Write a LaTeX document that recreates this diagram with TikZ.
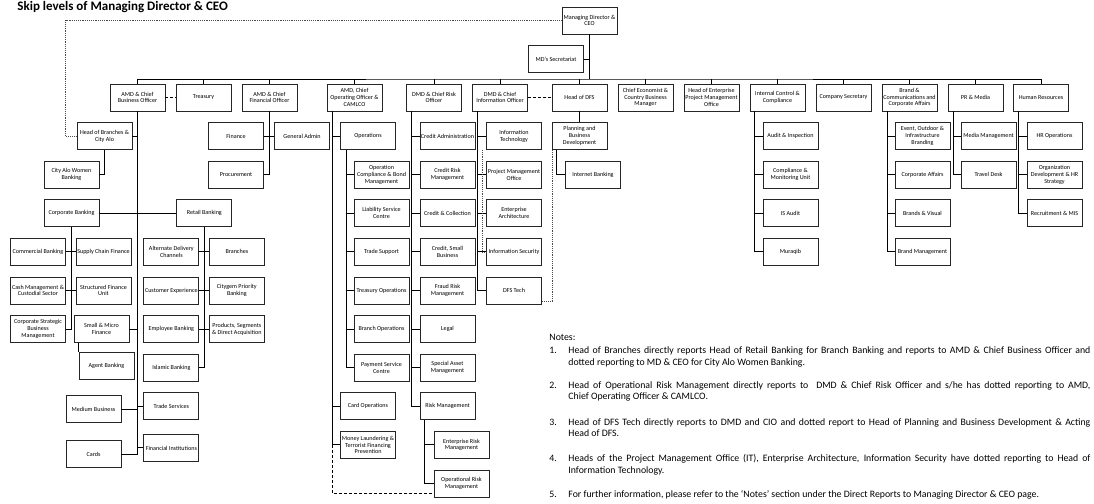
\documentclass[tikz,border=0pt]{standalone}
\usepackage{fontspec}
\setmainfont{Carlito}
\usetikzlibrary{positioning}
\tikzset{
	x=1pt, y=-1pt,
	node distance=38.6pt,
	every path/.style = {line width=0.85pt},
	box/.style = {draw=black!85, fill=white, rectangle, minimum width=55pt, minimum height=27pt, inner sep=0.5pt, align=center, font=\fontsize{6.1}{6.8}\selectfont},
	note/.style = {anchor=base west, inner sep=0pt, font=\fontsize{9.8}{11.7}\selectfont}
}

\begin{document}
\begin{tikzpicture}[dotline/.style={densely dotted, line width=0.7pt, black!70}, dashline/.style={dash pattern=on 3pt off 2pt}]
	\useasboundingbox (0,0) rectangle (1094,503);
	\node[anchor=base west, inner sep=0pt, font=\fontsize{13}{16}\bfseries\selectfont] (title) at (17,10.5) {Skip levels of Managing Director \& CEO};

	% top of the chart
	\node[box] (md) at (589.5,20.5) {Managing Director \&\\CEO};
	\node[box] (sec) at (556,59) {MD's Secretariat};
	\coordinate (bus) at (589.5,79);

	% direct reports
	\node[box] (cbo) at (137.5,97.5) {AMD \& Chief\\Business Officer};
	\node[box] (treasury) at (203.5,97.5) {Treasury};
	\node[box] (cfo) at (269.5,97.5) {AMD \& Chief\\Financial Officer};
	\node[box] (coo) at (354.5,97.5) {AMD, Chief\\Operating Officer \&\\CAMLCO};
	\node[box] (cro) at (434,97.5) {DMD \& Chief Risk\\Officer};
	\node[box] (cio) at (500,97.5) {DMD \& Chief\\Information Officer};
	\node[box] (dfs) at (579.5,97.5) {Head of DFS};
	\node[box] (econ) at (645.5,97.5) {Chief Economist \&\\Country Business\\Manager};
	\node[box] (epmo) at (711.5,97.5) {Head of Enterprise\\Project Management\\Office};
	\node[box] (icc) at (777.5,97.5) {Internal Control \&\\Compliance};
	\node[box] (cosec) at (843.5,97.5) {Company Secretary};
	\node[box] (brand) at (909.5,97.5) {Brand \&\\Communications and\\Corporate Affairs};
	\node[box] (pr) at (975.5,97.5) {PR \& Media};
	\node[box] (hr) at (1041,97.5) {Human Resources};

	% business
	\node[box] (hob) [below of=cbo, xshift=-33pt] {Head of Branches \&\\City Alo};
	\node[box] (cityalo) [below of=hob, xshift=-33pt] {City Alo Women\\Banking};
	\node[box] (corp) [below of=cityalo] {Corporate Banking};
	\node[box] (retail) [right=77pt of corp] {Retail Banking};
	\node[box] (commercial) [below of=corp, xshift=-33.5pt] {Commercial Banking};
	\node[box] (scf) [below of=corp, xshift=32pt] {Supply Chain Finance};
	\node[box] (cashmgmt) [below of=commercial] {Cash Management \&\\Custodial Sector};
	\node[box] (csbm) [below of=cashmgmt] {Corporate Strategic\\Business\\Management};
	\node[box] (sfu) [below of=scf] {Structured Finance\\Unit};
	\node[box] (smf) [below of=sfu, xshift=-2pt] {Small \& Micro\\Finance};
	\node[box] (agent) [below of=smf, xshift=5pt, yshift=2pt] {Agent Banking};
	\node[box] (adc) [below of=retail, xshift=-33pt] {Alternate Delivery\\Channels};
	\node[box] (branches) [below of=retail, xshift=32.5pt] {Branches};
	\node[box] (custexp) [below of=adc] {Customer Experience};
	\node[box] (employee) [below of=custexp] {Employee Banking};
	\node[box] (islamic) [below of=employee] {Islamic Banking};
	\node[box] (citygem) [below of=branches] {Citygem Priority\\Banking};
	\node[box] (products) [below of=citygem] {Products, Segments\\\& Direct Acquisition};
	\node[box] (trade) [below of=islamic] {Trade Services};
	\node[box] (finst) [below of=trade, yshift=-3pt] {Financial Institutions};
	\node[box] (medium) [left=22pt of trade, yshift=-3pt] {Medium Business};
	\node[box] (cards) [left=22pt of finst, yshift=-6.5pt] {Cards};

	% finance
	\node[box] (finance) [below of=cfo, xshift=-33.5pt] {Finance};
	\node[box] (admin) [below of=cfo, xshift=32.5pt] {General Admin};
	\node[box] (procure) [below of=finance] {Procurement};

	% operations
	\node[box] (ops) [below of=coo, xshift=13.5pt] {Operations};
	\node[box] (opcomp) [below of=ops, xshift=13.5pt] {Operation\\Compliance \& Bond\\Management};
	\node[box] (liability) [below of=opcomp] {Liability Service\\Centre};
	\node[box] (tradesup) [below of=liability] {Trade Support};
	\node[box] (treasops) [below of=tradesup] {Treasury Operations};
	\node[box] (branchops) [below of=treasops] {Branch Operations};
	\node[box] (payment) [below of=branchops] {Payment Service\\Centre};
	\node[box] (cardops) [below of=payment, xshift=-13.5pt] {Card Operations};
	\node[box] (aml) [below of=cardops] {Money Laundering \&\\Terrorist Financing\\Prevention};

	% risk
	\node[box] (credadmin) [below of=cro, xshift=13.5pt] {Credit Administration};
	\node[box] (credrisk) [below of=credadmin] {Credit Risk\\Management};
	\node[box] (credcoll) [below of=credrisk] {Credit \& Collection};
	\node[box] (credsmall) [below of=credcoll] {Credit, Small\\Business};
	\node[box] (fraud) [below of=credsmall] {Fraud Risk\\Management};
	\node[box] (legal) [below of=fraud] {Legal};
	\node[box] (sam) [below of=legal] {Special Asset\\Management};
	\node[box] (riskmgmt) [below of=sam] {Risk Management};
	\node[box] (erm) [below of=riskmgmt, xshift=14pt] {Enterprise Risk\\Management};
	\node[box] (orm) [below of=erm] {Operational Risk\\Management};

	% information
	\node[box] (it) [below of=cio, xshift=14pt] {Information\\Technology};
	\node[box] (pmo) [below of=it] {Project Management\\Office};
	\node[box] (ea) [below of=pmo] {Enterprise\\Architecture};
	\node[box] (infosec) [below of=ea] {Information Security};
	\node[box] (dfstech) [below of=infosec] {DFS Tech};
	\node[box] (planning) [below of=dfs] {Planning and\\Business\\Development};
	\node[box] (internet) [below of=planning, xshift=13.5pt] {Internet Banking};

	% control, brand, media, people
	\node[box] (audit) [below of=icc, xshift=13pt] {Audit \& Inspection};
	\node[box] (cmu) [below of=audit] {Compliance \&\\Monitoring Unit};
	\node[box] (isaudit) [below of=cmu] {IS Audit};
	\node[box] (muraqib) [below of=isaudit] {Muraqib};
	\node[box] (event) [below of=brand, xshift=13pt] {Event, Outdoor \&\\Infrastructure\\Branding};
	\node[box] (corpaff) [below of=event] {Corporate Affairs};
	\node[box] (brandvis) [below of=corpaff] {Brands \& Visual};
	\node[box] (brandmgmt) [below of=brandvis] {Brand Management};
	\node[box] (media) [below of=pr, xshift=13pt] {Media Management};
	\node[box] (travel) [below of=media] {Travel Desk};
	\node[box] (hrops) [below of=hr, xshift=13.5pt] {HR Operations};
	\node[box] (orgdev) [below of=hrops] {Organization\\Development \& HR\\Strategy};
	\node[box] (recruit) [below of=orgdev] {Recruitment \& MIS};

	% lines from the top
	\draw (md.south) -- (bus);
	\draw (sec.east) -- (sec.east -| md.south);
	\draw (cbo.north) |- (bus) -| (hr.north);
	\draw (treasury.north) -- (treasury.north |- bus) (cfo.north) -- (cfo.north |- bus)
		(coo.north) -- (coo.north |- bus) (cro.north) -- (cro.north |- bus)
		(cio.north) -- (cio.north |- bus) (dfs.north) -- (dfs.north |- bus)
		(econ.north) -- (econ.north |- bus) (epmo.north) -- (epmo.north |- bus)
		(icc.north) -- (icc.north |- bus) (cosec.north) -- (cosec.north |- bus)
		(brand.north) -- (brand.north |- bus) (pr.north) -- (pr.north |- bus);
	\draw[dotline] (md.west) -| ([xshift=-11pt]hob.west) -- (hob.west);
	\draw[dashline] (cbo.east) -- (treasury.west);
	\draw[dashline] (cio.east) -- (dfs.west);

	% business lines
	\draw (cbo.south) |- (cards.east);
	\draw (hob.east) -- (hob.east -| cbo.south);
	\draw (smf.east) -- (smf.east -| cbo.south);
	\draw (medium.east) -- (medium.east -| cbo.south);
	\draw (trade.west) -- (trade.west -| cbo.south);
	\draw (finst.west) -- (finst.west -| cbo.south);
	\draw (hob.south) |- (cityalo.east);
	\draw (corp.east) -- (retail.west);
	\draw (corp.south) |- (csbm.east);
	\draw (commercial.east) -- (scf.west);
	\draw (cashmgmt.east) -- (sfu.west);
	\draw (agent.north west) -- (agent.north west |- smf.south);
	\draw (retail.south) |- (islamic.east);
	\draw (adc.east) -- (branches.west);
	\draw (custexp.east) -- (citygem.west);
	\draw (employee.east) -- (products.west);
	\draw (cfo.south) |- (procure.east);
	\draw (finance.east) -- (admin.west);

	% operations lines
	\coordinate (cooline) at ([xshift=6pt]coo.south west);
	\draw (cooline) |- (aml.west);
	\draw (ops.west) -- (ops.west -| cooline);
	\draw (cardops.west) -- (cardops.west -| cooline);
	\coordinate (opsline) at ([xshift=6pt]ops.south west);
	\draw (opsline) |- (payment.west);
	\draw (opcomp.west) -- (opcomp.west -| opsline) (liability.west) -- (liability.west -| opsline)
		(tradesup.west) -- (tradesup.west -| opsline) (treasops.west) -- (treasops.west -| opsline)
		(branchops.west) -- (branchops.west -| opsline);
	\draw[dashline] (cooline |- aml.west) |- ([yshift=-10pt]orm.west);

	% risk lines
	\coordinate (croline) at ([xshift=5pt]cro.south west);
	\draw (croline) |- (riskmgmt.west);
	\draw (credadmin.west) -- (credadmin.west -| croline) (credrisk.west) -- (credrisk.west -| croline)
		(credcoll.west) -- (credcoll.west -| croline) (credsmall.west) -- (credsmall.west -| croline)
		(fraud.west) -- (fraud.west -| croline) (legal.west) -- (legal.west -| croline)
		(sam.west) -- (sam.west -| croline);
	\coordinate (rmline) at ([xshift=5pt]riskmgmt.south west);
	\draw (rmline) |- (orm.west);
	\draw (erm.west) -- (erm.west -| rmline);

	% information lines
	\coordinate (cioline) at ([xshift=5pt]cio.south west);
	\draw (cioline) |- (dfstech.west);
	\draw (it.west) -- (it.west -| cioline) (pmo.west) -- (pmo.west -| cioline)
		(ea.west) -- (ea.west -| cioline) (infosec.west) -- (infosec.west -| cioline);
	\draw[dotline] ([xshift=-4pt]it.south west) |- (infosec.west);
	\draw (dfs.south) -- (planning.north);
	\coordinate (planline) at ([xshift=5pt]planning.south west);
	\draw (planline) |- (internet.west);
	\draw[dotline] ([xshift=1pt]planning.south west) |- ([yshift=-11pt]dfstech.east);

	% control, brand, media, people lines
	\coordinate (iccline) at ([xshift=5pt]icc.south west);
	\draw (iccline) |- (muraqib.west);
	\draw (audit.west) -- (audit.west -| iccline) (cmu.west) -- (cmu.west -| iccline)
		(isaudit.west) -- (isaudit.west -| iccline);
	\coordinate (brandline) at ([xshift=6pt]brand.south west);
	\draw (brandline) |- (brandmgmt.west);
	\draw (event.west) -- (event.west -| brandline) (corpaff.west) -- (corpaff.west -| brandline)
		(brandvis.west) -- (brandvis.west -| brandline);
	\coordinate (prline) at ([xshift=6pt]pr.south west);
	\draw (prline) |- (travel.west);
	\draw (media.west) -- (media.west -| prline);
	\coordinate (hrline) at ([xshift=5pt]hr.south west);
	\draw (hrline) |- (recruit.west);
	\draw (hrops.west) -- (hrops.west -| hrline) (orgdev.west) -- (orgdev.west -| hrline);

	% notes
	\node[note] (notes) at (549,340.5) {Notes:};
	\node[note] (n1) at (549,353.3) {1.};
	\node[note, text width=522pt, align=justify] (t1) at (568,353.3) {Head of Branches directly reports Head of Retail Banking for Branch Banking and reports to AMD \& Chief Business Officer and\linebreak dotted reporting to MD \& CEO for City Alo Women Banking.};
	\node[note] (n2) at (549,388) {2.};
	\node[note, text width=522pt, align=justify] (t2) at (568,388) {Head of Operational Risk Management directly reports to \ DMD \& Chief Risk Officer and s/he has dotted reporting to AMD,\linebreak Chief Operating Officer \& CAMLCO.};
	\node[note] (n3) at (549,425) {3.};
	\node[note, text width=522pt, align=justify] (t3) at (568,425) {Head of DFS Tech directly reports to DMD and CIO and dotted report to Head of Planning and Business Development \& Acting\linebreak Head of DFS.};
	\node[note] (n4) at (549,461.7) {4.};
	\node[note, text width=522pt, align=justify] (t4) at (568,461.7) {Heads of the Project Management Office (IT), Enterprise Architecture, Information Security have dotted reporting to Head of\linebreak Information Technology.};
	\node[note] (n5) at (549,497) {5.};
	\node[note, text width=522pt, align=justify] (t5) at (568,497) {For further information, please refer to the ‘Notes’ section under the Direct Reports to Managing Director \& CEO page.};
\end{tikzpicture}
\end{document}
